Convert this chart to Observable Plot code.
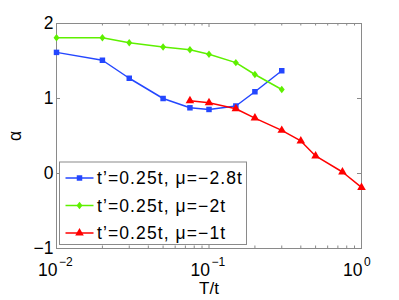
<!DOCTYPE html>
<html><head><meta charset="utf-8">
<script src="https://cdn.jsdelivr.net/npm/d3@7"></script>
<script src="https://cdn.jsdelivr.net/npm/@observablehq/plot@0.6"></script>
<style>
body{margin:0;background:#fff}
#chart svg{font-family:"Liberation Sans",Arial,Helvetica,sans-serif;background:#fff}
</style>
</head><body><div id="chart"></div>
<script>
// Data
const T_A = [0.01, 0.02, 0.03, 0.05, 0.075, 0.1, 0.15, 0.2, 0.3];
const alpha_A = [1.615, 1.51, 1.27, 1.0, 0.876, 0.854, 0.90, 1.09, 1.37];
const T_B = [0.01, 0.02, 0.03, 0.05, 0.075, 0.1, 0.15, 0.2, 0.3];
const alpha_B = [1.81, 1.81, 1.743, 1.686, 1.65, 1.59, 1.478, 1.32, 1.12];
const T_C = [0.075, 0.1, 0.15, 0.2, 0.3, 0.4, 0.5, 0.75, 1.0];
const alpha_C = [0.969, 0.942, 0.863, 0.739, 0.575, 0.434, 0.234, 0.02, -0.186];
const seriesLabels = ["t’=0.25t, μ=−2.8t", "t’=0.25t, μ=−2t", "t’=0.25t, μ=−1t"];
const seriesColors = ["#2447ff", "#5ef000", "#ff0000"];
const xMajor = [0.01, 0.1, 1];
const xExponents = ["−2", "−1", "0"];
const xMinor = [0.02, 0.03, 0.04, 0.05, 0.06, 0.07, 0.08, 0.09, 0.2, 0.3, 0.4, 0.5, 0.6, 0.7, 0.8, 0.9];
const yTicks = [-1, 0, 1, 2];
const xLabel = "T/t";
const yLabel = "α";

const W = 399, H = 300;
const M = {top: 23, right: 38, bottom: 52, left: 56};
const fw = W - M.left - M.right, fh = H - M.top - M.bottom;
const gray = "#8a8a8a";

// custom tall diamond (matlab 'd')
const tallDiamond = {
  draw(ctx, size) {
    const r = Math.sqrt(size / Math.PI);
    const w = r * 0.8;
    ctx.moveTo(0, -r); ctx.lineTo(w, 0); ctx.lineTo(0, r); ctx.lineTo(-w, 0); ctx.closePath();
  }
};
const symbols = [d3.symbolSquare, tallDiamond, d3.symbolTriangle];
const radii = [3.1, 3.7, 3.2];

const series = [
  T_A.map((t, i) => ({T: t, a: alpha_A[i]})),
  T_B.map((t, i) => ({T: t, a: alpha_B[i]})),
  T_C.map((t, i) => ({T: t, a: alpha_C[i]}))
];

function legendMark(index, scales, values, dims) {
  const g = d3.create("svg:g");
  const x0 = dims.marginLeft + 3.5, y0 = dims.marginTop + 139;
  g.append("rect").attr("x", x0).attr("y", y0).attr("width", 187).attr("height", 82.5)
    .attr("fill", "white").attr("stroke", gray).attr("stroke-width", 1);
  seriesLabels.forEach((lab, i) => {
    const y = y0 + 16 + i * 27.5;
    g.append("line").attr("x1", x0 + 6).attr("x2", x0 + 34).attr("y1", y).attr("y2", y)
      .attr("stroke", seriesColors[i]).attr("stroke-width", 1.5);
    const r = radii[i];
    g.append("path").attr("d", d3.symbol(symbols[i], Math.PI * r * r)())
      .attr("transform", `translate(${x0 + 20},${y})`).attr("fill", seriesColors[i]);
    g.append("text").attr("x", x0 + 37.5).attr("y", y).attr("dy", "0.36em")
      .attr("text-anchor", "start")
      .attr("font-size", 17.5).attr("letter-spacing", "1.1px").attr("fill", "#000").text(lab);
  });
  return g.node();
}

const fmtY = d => d < 0 ? "−" + (-d) : String(d);

const marks = [
  // inward ticks
  Plot.ruleX(xMajor, {stroke: gray, insetTop: fh - 4}),
  Plot.ruleX(xMajor, {stroke: gray, insetBottom: fh - 4}),
  Plot.ruleX(xMinor, {stroke: gray, insetTop: fh - 2.5}),
  Plot.ruleX(xMinor, {stroke: gray, insetBottom: fh - 2.5}),
  Plot.ruleY(yTicks, {stroke: gray, insetRight: fw - 4}),
  Plot.ruleY(yTicks, {stroke: gray, insetLeft: fw - 4}),
  Plot.frame({stroke: gray}),
  // tick labels
  Plot.axisX(xMajor, {tickSize: 0, tickPadding: 15.5, tickFormat: () => "10", textAnchor: "end", fontSize: 17.5, dx: 1, label: null}),
  Plot.axisX(xMajor, {tickSize: 0, tickPadding: 8.5, tickFormat: d => xExponents[xMajor.indexOf(d)], textAnchor: "start", fontSize: 12, dx: 2.5, label: null}),
  Plot.axisY(yTicks, {tickSize: 0, tickPadding: 3, fontSize: 17.5, tickFormat: fmtY, label: null}),
  Plot.text([xLabel], {frameAnchor: "bottom", lineAnchor: "middle", textAnchor: "middle", dy: 40, fontSize: 17, fill: "#000"}),
  Plot.text([yLabel], {frameAnchor: "left", lineAnchor: "middle", textAnchor: "middle", dx: -41, rotate: -90, fontSize: 17.5, fill: "#000"})
];
series.forEach((s, i) => {
  marks.push(Plot.line(s, {x: "T", y: "a", stroke: seriesColors[i], strokeWidth: 1.5}));
  marks.push(Plot.dot(s, {x: "T", y: "a", symbol: () => symbols[i], r: radii[i], fill: seriesColors[i], stroke: "none"}));
});
marks.push(legendMark);

const chart = Plot.plot({
  width: W, height: H,
  marginTop: M.top, marginRight: M.right, marginBottom: M.bottom, marginLeft: M.left,
  style: {fontFamily: '"Liberation Sans", Arial, sans-serif', color: "#000", background: "#fff"},
  x: {type: "log", domain: [0.01, 1], axis: null},
  y: {domain: [-1, 2], axis: null},
  symbol: {type: "identity"},
  marks
});
document.getElementById("chart").appendChild(chart);
</script>
</body></html>
